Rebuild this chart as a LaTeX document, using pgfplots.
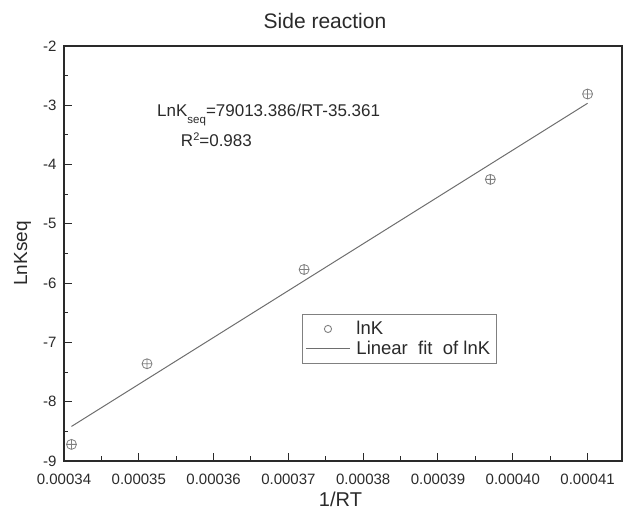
\documentclass[border=0pt]{standalone}
\usepackage{fontspec}
\setmainfont{Liberation Sans}
\usepackage{pgfplots}
\pgfplotsset{compat=1.18}
\definecolor{axgray}{HTML}{2A2A2A}
\definecolor{mkgray}{HTML}{808080}
\definecolor{lngray}{HTML}{6E6E6E}
\begin{document}
\begin{tikzpicture}
\begin{axis}[
  scale only axis, width=558pt, height=415pt,
  xmin=0.00034, xmax=0.0004146, ymin=-9, ymax=-2,
  xtick={0.00034,0.00035,0.00036,0.00037,0.00038,0.00039,0.00040,0.00041},
  xticklabels={0.00034,0.00035,0.00036,0.00037,0.00038,0.00039,0.00040,0.00041},
  ytick={-9,-8,-7,-6,-5,-4,-3,-2},
  yticklabels={-9,-8,-7,-6,-5,-4,-3,-2},
  scaled x ticks=false,
  minor x tick num=1, minor y tick num=1,
  tick align=inside, xtick pos=left, ytick pos=left,
  major tick length=8pt, minor tick length=4.5pt,
  axis line style={line width=1.2pt, axgray},
  every tick/.style={line width=1pt, axgray},
  ticklabel style={font=\fontsize{15}{18}\selectfont, text=axgray},
  xticklabel style={yshift=-9pt},
  yticklabel style={xshift=-4pt},
  every axis x label/.style={at={(axis description cs:0.4955,-0.1108)}, anchor=base, font=\fontsize{20}{24}\selectfont, text=axgray},
  every axis y label/.style={at={(axis description cs:-0.0663,0.5)}, rotate=90, anchor=base, font=\fontsize{19}{23}\selectfont, text=axgray},
  every axis title/.style={at={(axis description cs:0.4677,1.0426)}, anchor=base, font=\fontsize{21}{25}\selectfont, text=axgray},
  xlabel={1/RT}, ylabel={LnKseq}, title={Side reaction},
  legend style={at={(rel axis cs:0.4265,0.3542)}, anchor=north west, draw=mkgray, line width=1pt,
    font=\fontsize{18.5}{21}\selectfont, text=axgray, inner xsep=3pt, inner ysep=5pt, row sep=1pt,
    column sep=3pt, nodes={inner ysep=2pt, inner xsep=3pt}},
  legend cell align=left,
]
\addplot[only marks, mark=oplus, mark size=5pt, mkgray, mark options={line width=0.8pt}, forget plot]
  coordinates {(0.000341,-8.72) (0.0003511,-7.36) (0.0003721,-5.77) (0.000397,-4.25) (0.00041,-2.81)};
\addlegendimage{only marks, mark=o, mark size=3.6pt, mkgray, mark options={line width=0.9pt},
  legend image code/.code={\draw[mark repeat=2,mark phase=2] plot coordinates {(0pt,0pt) (22pt,0pt) (44pt,0pt)};}}
\addlegendentry{lnK}
\addplot[lngray, line width=1pt, legend image code/.code={\draw (0pt,0pt) -- (44pt,0pt);}]
  coordinates {(0.000341,-8.417) (0.00041,-2.966)};
\addlegendentry{Linear\ \ fit\ \ of lnK}
\node[anchor=base west, font=\fontsize{17}{20}\selectfont, text=axgray, inner sep=0pt] at (rel axis cs:0.1667,0.829) {LnK\raisebox{-6.5pt}{\fontsize{11.5}{13}\selectfont seq}=79013.386/RT-35.361};
\node[anchor=base west, font=\fontsize{17}{20}\selectfont, text=axgray, inner sep=0pt] at (rel axis cs:0.2093,0.7574) {R\raisebox{6pt}{\fontsize{11}{13}\selectfont 2}=0.983};
\end{axis}
\pgfresetboundingbox
\path (current axis.south west) ++(-64pt,-55pt) coordinate (bbsw);
\path (current axis.north east) ++(7pt,46pt) coordinate (bbne);
\path[use as bounding box] (bbsw) rectangle (bbne);
\end{tikzpicture}
\end{document}
